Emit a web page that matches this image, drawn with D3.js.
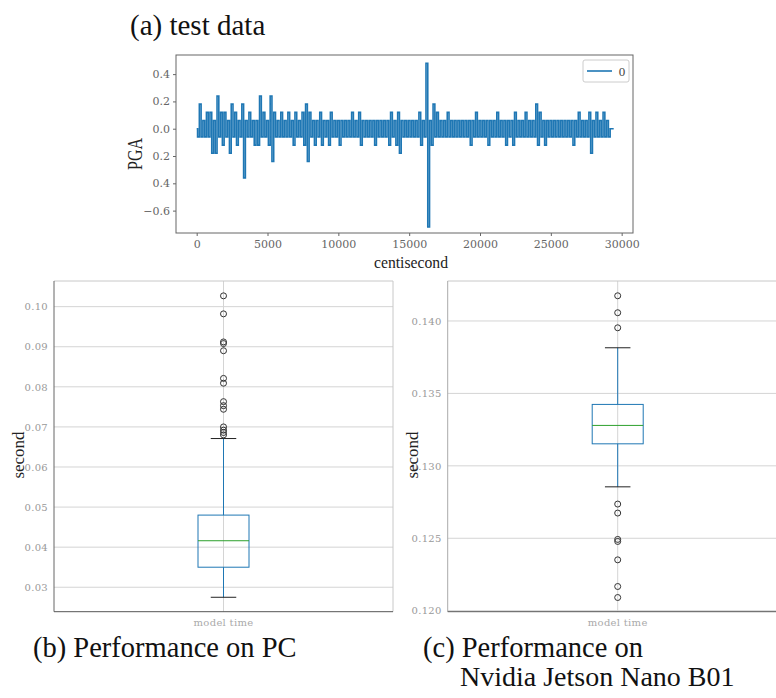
<!DOCTYPE html>
<html>
<head>
<meta charset="utf-8">
<script src="https://cdn.jsdelivr.net/npm/d3@7"></script>
<style>
  html, body { margin: 0; padding: 0; background: #fff; }
  svg { display: block; font-family: "Liberation Serif", "DejaVu Serif", serif; }
</style>
</head>
<body>
<svg id="fig" width="776" height="698"></svg>
<script>
// (a) test data: PGA per 250-centisecond bin, upper and lower excursion
const pgaBinStart = d3.range(0, 29501, 250);
const pgaHigh = [
  0, .18, .06, .12, .12, .06, .24, .12, .12, .06,
  .18, .12, .06, .18, .06, .12, .06, .06, .24, .12,
  .06, .24, .12, .06, .12, .06, .12, .06, .12, .06,
  .12, .18, .12, .06, .06, .12, .06, .06, .12, .06,
  .06, .06, .06, .06, .12, .06, .12, .06, .06, .06,
  .06, .06, .06, .06, .06, .12, .06, .12, .06, .06,
  .06, .06, .06, .12, .06, .48, .06, .18, .12, .06,
  .06, .12, .06, .06, .06, .06, .06, .06, .06, .12,
  .06, .06, .06, .06, .06, .12, .06, .06, .06, .06,
  .12, .06, .06, .12, .06, .06, .18, .12, .06, .06,
  .06, .06, .06, .06, .06, .06, .06, .06, .12, .06,
  .06, .12, .06, .12, .06, .12, .06, 0
];
const pgaLow = [
  -.06, -.06, -.06, -.06, -.18, -.18, -.06, -.12, -.06, -.18,
  -.06, -.12, -.06, -.36, -.06, -.06, -.12, -.12, -.06, -.06,
  -.12, -.24, -.06, -.06, -.06, -.06, -.06, -.12, -.06, -.06,
  -.12, -.24, -.06, -.12, -.06, -.12, -.06, -.12, -.06, -.06,
  -.12, -.06, -.06, -.06, -.06, -.06, -.12, -.06, -.06, -.06,
  -.12, -.06, -.06, -.06, -.12, -.06, -.12, -.18, -.06, -.06,
  -.06, -.06, -.06, -.12, -.06, -.72, -.12, -.06, -.06, -.06,
  -.06, -.06, -.06, -.06, -.06, -.06, -.06, -.12, -.06, -.06,
  -.06, -.06, -.12, -.06, -.06, -.06, -.06, -.12, -.06, -.12,
  -.06, -.06, -.06, -.06, -.06, -.06, -.12, -.06, -.12, -.06,
  -.06, -.06, -.06, -.06, -.06, -.06, -.12, -.06, -.06, -.06,
  -.06, -.18, -.06, -.06, -.06, -.06, -.06, 0
];
const pgaXTicks = [0, 5000, 10000, 15000, 20000, 25000, 30000];
const pgaYTicks = [0.4, 0.2, 0.0, -0.2, -0.4, -0.6];
// minus sign is missing on two labels in the original figure
const pgaYTickLabels = ["0.4", "0.2", "0.0", "0.2", "0.4", "\u22120.6"];
const pgaLegend = ["0"];

// (b) / (c) box plots: five-number summaries and fliers
const boxCategories = ["model time"];
const pcStats = { low: 0.0275, q1: 0.0350, median: 0.0416, q3: 0.0480, high: 0.0671 };
const pcOutliers = [0.1027, 0.0982, 0.0912, 0.0908, 0.0890, 0.0821, 0.0809, 0.0763,
                    0.0753, 0.0744, 0.0700, 0.0692, 0.0686, 0.0680];
const pcYTicks = [0.03, 0.04, 0.05, 0.06, 0.07, 0.08, 0.09, 0.10];
const nanoStats = { low: 0.12855, q1: 0.13152, median: 0.13279, q3: 0.13424, high: 0.13815 };
const nanoOutliers = [0.14174, 0.14057, 0.13953, 0.12736, 0.12674, 0.12492, 0.12478,
                      0.12351, 0.12167, 0.12091];
const nanoYTicks = [0.120, 0.125, 0.130, 0.135, 0.140];

const svg = d3.select('#fig');
const C0 = '#1f77b4';
const tickFont = '"DejaVu Serif", "Liberation Serif", serif';

// ---------- (a) test data ----------
const panelA = { left: 176, right: 633, top: 55, bottom: 233 };
const x = d3.scaleLinear().domain([-1460, 30800]).range([panelA.left, panelA.right]);
const y = d3.scaleLinear().domain([-0.764, 0.54]).range([panelA.bottom, panelA.top]);

const pgaPoints = pgaBinStart.flatMap((t, i) => [
  { t: t, v: pgaHigh[i] },
  { t: t + 125, v: pgaLow[i] }
]);

const gA = svg.append('g');

// the signal is quantised, so a step curve reproduces the dense vertical strokes
gA.append('path')
  .datum(pgaPoints)
  .attr('fill', 'none')
  .attr('stroke', C0)
  .attr('stroke-width', 1.6)
  .attr('d', d3.line().x(d => x(d.t)).y(d => y(d.v)).curve(d3.curveStep));

gA.append('rect')
  .attr('x', panelA.left).attr('y', panelA.top)
  .attr('width', panelA.right - panelA.left).attr('height', panelA.bottom - panelA.top)
  .attr('fill', 'none').attr('stroke', '#666').attr('stroke-width', 1);

const xAxisA = gA.append('g')
  .attr('transform', `translate(0,${panelA.bottom})`)
  .call(d3.axisBottom(x).tickValues(pgaXTicks).tickFormat(d3.format('d')).tickSize(3).tickPadding(4));
const yAxisA = gA.append('g')
  .attr('transform', `translate(${panelA.left},0)`)
  .call(d3.axisLeft(y).tickValues(pgaYTicks).tickFormat((d, i) => pgaYTickLabels[i]).tickSize(3).tickPadding(3));
[xAxisA, yAxisA].forEach(ax => {
  ax.select('.domain').remove();
  ax.selectAll('line').attr('stroke', '#666');
  ax.selectAll('text').attr('fill', '#666').attr('font-size', 11)
    .attr('font-family', tickFont).attr('font-weight', 300);
});

gA.append('text')
  .attr('transform', 'translate(142,154) rotate(-90)')
  .attr('text-anchor', 'middle')
  .attr('font-size', 20).attr('fill', '#222')
  .attr('textLength', 32).attr('lengthAdjust', 'spacingAndGlyphs')
  .text('PGA');
gA.append('text')
  .attr('x', 411).attr('y', 268)
  .attr('text-anchor', 'middle')
  .attr('font-size', 17).attr('fill', '#222')
  .attr('textLength', 74).attr('lengthAdjust', 'spacingAndGlyphs')
  .text('centisecond');

// legend
const lg = gA.append('g').attr('transform', 'translate(583,60)');
lg.append('rect').attr('width', 46).attr('height', 22).attr('rx', 2)
  .attr('fill', '#fff').attr('stroke', '#ccc');
pgaLegend.forEach((label, i) => {
  lg.append('line').attr('x1', 4).attr('x2', 29).attr('y1', 11 + i * 18).attr('y2', 11 + i * 18)
    .attr('stroke', C0).attr('stroke-width', 1.6);
  lg.append('text').attr('x', 39).attr('y', 15.5 + i * 18).attr('text-anchor', 'middle')
    .attr('font-size', 13).attr('fill', '#444').text(label);
});

// ---------- box plots ----------
function boxPlot(opts) {
  const g = svg.append('g');
  const yS = d3.scaleLinear().domain(opts.domain).range([opts.bottom, opts.top]);
  const xS = d3.scalePoint().domain(boxCategories).range([opts.left, opts.right]).padding(0.5);
  const cx = xS(boxCategories[0]);
  const half = 25.5;
  const s = opts.stats;

  // grid
  g.selectAll('.hgrid').data(opts.ticks).join('line')
    .attr('x1', opts.left).attr('x2', opts.right)
    .attr('y1', d => yS(d)).attr('y2', d => yS(d))
    .attr('stroke', '#d4d4d4').attr('stroke-width', 1);
  g.append('line').attr('x1', cx).attr('x2', cx).attr('y1', opts.top).attr('y2', opts.bottom)
    .attr('stroke', '#d4d4d4').attr('stroke-width', 1);

  // frame
  g.append('line').attr('x1', opts.left).attr('x2', opts.right).attr('y1', opts.top).attr('y2', opts.top)
    .attr('stroke', '#c8c8c8');
  g.append('line').attr('x1', opts.right).attr('x2', opts.right).attr('y1', opts.top).attr('y2', opts.bottom)
    .attr('stroke', '#c8c8c8');
  g.append('line').attr('x1', opts.left).attr('x2', opts.left).attr('y1', opts.top).attr('y2', opts.bottom)
    .attr('stroke', opts.leftSpine);
  g.append('line').attr('x1', opts.left).attr('x2', opts.right).attr('y1', opts.bottom).attr('y2', opts.bottom)
    .attr('stroke', '#555');

  // whiskers, box, median, caps
  g.append('line').attr('x1', cx).attr('x2', cx).attr('y1', yS(s.q3)).attr('y2', yS(s.high))
    .attr('stroke', C0);
  g.append('line').attr('x1', cx).attr('x2', cx).attr('y1', yS(s.q1)).attr('y2', yS(s.low))
    .attr('stroke', C0);
  g.append('rect').attr('x', cx - half).attr('width', half * 2)
    .attr('y', yS(s.q3)).attr('height', yS(s.q1) - yS(s.q3))
    .attr('fill', 'none').attr('stroke', C0).attr('stroke-width', 1);
  g.append('line').attr('x1', cx - half).attr('x2', cx + half)
    .attr('y1', yS(s.median)).attr('y2', yS(s.median))
    .attr('stroke', '#2ca02c').attr('stroke-width', 1);
  [s.low, s.high].forEach(v => {
    g.append('line').attr('x1', cx - half / 2).attr('x2', cx + half / 2)
      .attr('y1', yS(v)).attr('y2', yS(v)).attr('stroke', '#222');
  });

  g.selectAll('.flier').data(opts.outliers).join('circle')
    .attr('cx', cx).attr('cy', d => yS(d)).attr('r', 3)
    .attr('fill', 'none').attr('stroke', '#333').attr('stroke-width', 1);

  // axes text
  const ya = g.append('g').attr('transform', `translate(${opts.left},0)`)
    .call(d3.axisLeft(yS).tickValues(opts.ticks).tickFormat(d3.format(opts.fmt)).tickSize(0).tickPadding(6));
  ya.select('.domain').remove();
  ya.selectAll('text').attr('fill', '#999').attr('font-size', 10)
    .attr('font-family', tickFont).attr('letter-spacing', 0.3);

  g.append('text').attr('x', cx).attr('y', opts.bottom + 14).attr('text-anchor', 'middle')
    .attr('font-size', 10).attr('fill', '#aaa').attr('font-family', tickFont)
    .attr('letter-spacing', 0.3).text(boxCategories[0]);

  g.append('text')
    .attr('transform', `translate(${opts.labelX},455) rotate(-90)`)
    .attr('text-anchor', 'middle').attr('font-size', 17).attr('fill', '#222')
    .text('second');
}

boxPlot({
  left: 54, right: 393, top: 281, bottom: 611.7,
  domain: [0.0239, 0.1064], ticks: pcYTicks, fmt: '.2f',
  stats: pcStats, outliers: pcOutliers, leftSpine: '#666', labelX: 24
});
boxPlot({
  left: 447.7, right: 787.7, top: 281, bottom: 611.7,
  domain: [0.11993, 0.14276], ticks: nanoYTicks, fmt: '.3f',
  stats: nanoStats, outliers: nanoOutliers, leftSpine: '#aaa', labelX: 418
});

// ---------- captions ----------
const captions = [
  { text: '(a) test data', x: 130, y: 35, size: 29 },
  { text: '(b) Performance on PC', x: 33, y: 657, size: 28.5 },
  { text: '(c) Performance on', x: 423, y: 657, size: 28.5 },
  { text: 'Nvidia Jetson Nano B01', x: 460, y: 686, size: 28 }
];
svg.selectAll('.caption').data(captions).join('text')
  .attr('x', d => d.x).attr('y', d => d.y)
  .attr('font-size', d => d.size).attr('fill', '#111')
  .text(d => d.text);
</script>
</body>
</html>
